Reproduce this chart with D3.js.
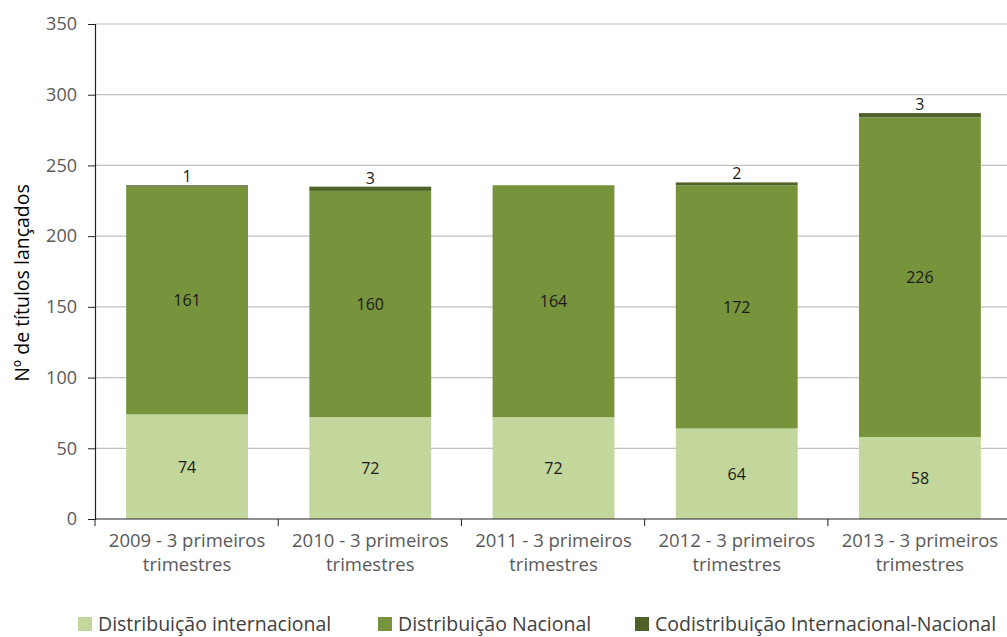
<!DOCTYPE html>
<html>
<head>
<meta charset="utf-8">
<script src="https://cdn.jsdelivr.net/npm/d3@7"></script>
<style>
  body { margin: 0; background: #fff; overflow: hidden; }
  text { font-family: "Open Sans", "DejaVu Sans", sans-serif; }
</style>
</head>
<body>
<script>
// Data
var categories = ["2009 - 3 primeiros|trimestres", "2010 - 3 primeiros|trimestres", "2011 - 3 primeiros|trimestres", "2012 - 3 primeiros|trimestres", "2013 - 3 primeiros|trimestres"];
var internacional = [74, 72, 72, 64, 58];
var nacional = [161, 160, 164, 172, 226];
var codistribuicao = [1, 3, 0, 2, 3];
var seriesNames = ["Distribuição internacional", "Distribuição Nacional", "Codistribuição Internacional-Nacional"];
var yTicks = [0, 50, 100, 150, 200, 250, 300, 350];

var colors = ["#c3d69b", "#77933c", "#4f6228"];

var svgWidth = 1007;
var svgHeight = 637;
// plot area runs a little past the right edge, as in the original picture
var margin = { top: 24, right: -5, bottom: 118, left: 95 };
var width = svgWidth - margin.left - margin.right;
var height = svgHeight - margin.top - margin.bottom;

var svg = d3.select("body")
  .append("svg")
  .attr("width", svgWidth)
  .attr("height", svgHeight);

var chartGroup = svg.append("g")
  .attr("transform", `translate(${margin.left}, ${margin.top})`);

var xScale = d3.scaleBand()
  .domain(categories)
  .range([0, width])
  .paddingInner(0.335)
  .paddingOuter(0.17);

var yScale = d3.scaleLinear()
  .domain([0, 350])
  .range([height, 0]);

// gridlines
chartGroup.append("g")
  .selectAll("line")
  .data(yTicks.slice(1))
  .enter().append("line")
    .attr("x1", 0)
    .attr("x2", width)
    .attr("y1", d => yScale(d))
    .attr("y2", d => yScale(d))
    .attr("stroke", "#c0c0c0")
    .attr("stroke-width", 1.2);

// stacked data
var table = categories.map(function (c, i) {
  return { cat: c, a: internacional[i], b: nacional[i], c: codistribuicao[i] };
});
var stack = d3.stack().keys(["a", "b", "c"]);
var layers = stack(table);

var layerGroups = chartGroup.selectAll(".layer")
  .data(layers)
  .enter().append("g")
    .attr("class", "layer")
    .attr("fill", (d, i) => colors[i]);

layerGroups.selectAll("rect")
  .data(d => d)
  .enter().append("rect")
    .attr("x", d => xScale(d.data.cat))
    .attr("width", xScale.bandwidth())
    .attr("y", d => yScale(d[1]))
    .attr("height", d => yScale(d[0]) - yScale(d[1]));

// value labels
var labelColor = "#1a1a1a";
chartGroup.selectAll(".lblA")
  .data(layers[0])
  .enter().append("text")
    .attr("x", d => xScale(d.data.cat) + xScale.bandwidth() / 2)
    .attr("y", d => (yScale(d[0]) + yScale(d[1])) / 2 + 6)
    .attr("text-anchor", "middle")
    .attr("font-size", 16)
    .attr("fill", labelColor)
    .text(d => d.data.a);

chartGroup.selectAll(".lblB")
  .data(layers[1])
  .enter().append("text")
    .attr("x", d => xScale(d.data.cat) + xScale.bandwidth() / 2)
    .attr("y", d => (yScale(d[0]) + yScale(d[1])) / 2 + 6)
    .attr("text-anchor", "middle")
    .attr("font-size", 16)
    .attr("fill", labelColor)
    .text(d => d.data.b);

// top series label only where there is a value
chartGroup.selectAll(".lblC")
  .data(layers[2].filter(d => d.data.c > 0))
  .enter().append("text")
    .attr("x", d => xScale(d.data.cat) + xScale.bandwidth() / 2)
    .attr("y", d => yScale(d[1]) - 3)
    .attr("text-anchor", "middle")
    .attr("font-size", 16)
    .attr("fill", labelColor)
    .text(d => d.data.c);

// y axis
var leftAxis = d3.axisLeft(yScale).tickValues(yTicks).tickSize(7).tickPadding(11);
var yAxis = chartGroup.append("g").call(leftAxis);
yAxis.select(".domain").attr("stroke", "#222").attr("stroke-width", 1.2);
yAxis.selectAll(".tick line").attr("stroke", "#222");
yAxis.selectAll(".tick text")
  .attr("font-size", 18)
  .attr("fill", "#595959")
  .style("font-family", "'Open Sans', sans-serif");

// x axis (ticks on category boundaries)
var xAxis = chartGroup.append("g")
  .attr("transform", `translate(0, ${height})`);
xAxis.append("line")
  .attr("x1", 0).attr("x2", width)
  .attr("stroke", "#222").attr("stroke-width", 1.2);
var boundaries = d3.range(categories.length + 1).map(i => i * xScale.step());
xAxis.selectAll(".xtick")
  .data(boundaries)
  .enter().append("line")
    .attr("x1", d => d).attr("x2", d => d)
    .attr("y1", 0).attr("y2", 7)
    .attr("stroke", "#222");

var xLabels = xAxis.selectAll(".xlabel")
  .data(categories)
  .enter().append("text")
    .attr("text-anchor", "middle")
    .attr("font-size", 18.5)
    .attr("fill", "#595959")
    .attr("transform", d => `translate(${xScale(d) + xScale.bandwidth() / 2}, 0)`);
xLabels.append("tspan").attr("x", 0).attr("y", 28).text(d => d.split("|")[0]);
xLabels.append("tspan").attr("x", 0).attr("y", 52).text(d => d.split("|")[1]);

// y title
svg.append("text")
  .attr("transform", "rotate(-90)")
  .attr("x", -283)
  .attr("y", 29)
  .attr("text-anchor", "middle")
  .attr("font-size", 19.5)
  .attr("fill", "#000")
  .text("Nº de títulos lançados");

// legend
var legendX = [78, 378, 635];
var legend = svg.selectAll(".legend")
  .data(seriesNames)
  .enter().append("g")
    .attr("transform", (d, i) => `translate(${legendX[i]}, 617)`);
legend.append("rect")
  .attr("width", 14).attr("height", 14)
  .attr("fill", (d, i) => colors[i]);
legend.append("text")
  .attr("x", 20).attr("y", 14)
  .attr("font-size", 19.5)
  .attr("fill", "#404040")
  .text(d => d);
</script>
</body>
</html>
